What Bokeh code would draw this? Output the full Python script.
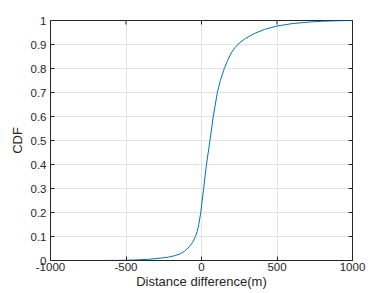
import math
from bokeh.plotting import figure
from bokeh.models import Range1d, FixedTicker
from bokeh.embed import file_html
from bokeh.resources import INLINE

dist = [-1000, -700, -550, -450, -350, -270, -220, -177, -140, -111, -80, -60, -40, -28, -18, -5, 14, 33, 56, 78, 105, 125, 151, 175, 200, 225, 250, 290, 351, 418, 500, 600, 700, 800, 900, 1000]
cdf = [0, 0, 0.0005, 0.002, 0.005, 0.01, 0.014, 0.02, 0.028, 0.039, 0.058, 0.075, 0.1, 0.122, 0.15, 0.2, 0.3, 0.4, 0.5, 0.6, 0.7, 0.75, 0.8, 0.837, 0.868, 0.889, 0.906, 0.925, 0.946, 0.963, 0.977, 0.987, 0.993, 0.997, 0.999, 1.0]

x_ticks = [-1000, -500, 0, 500, 1000]
x_tick_labels = ["-1000", "-500", "0", "500", "1000"]
y_ticks = [0, 0.1, 0.2, 0.3, 0.4, 0.5, 0.6, 0.7, 0.8, 0.9, 1]
y_tick_labels = ["0", "0.1", "0.2", "0.3", "0.4", "0.5", "0.6", "0.7", "0.8", "0.9", "1"]
x_min, x_max = -1000, 1000
y_min, y_max = 0, 1

FONT = "Liberation Sans"
TXT = "#262626"

p = figure(frame_width=302, frame_height=240,
           x_range=Range1d(x_min, x_max), y_range=Range1d(y_min, y_max),
           output_backend="svg", toolbar_location=None,
           min_border_left=50, min_border_top=20, min_border_right=22, min_border_bottom=30,
           background_fill_color="white", border_fill_color="white")
p.outline_line_color = TXT
p.outline_line_width = 1

p.xgrid.ticker = FixedTicker(ticks=x_ticks)
p.ygrid.ticker = FixedTicker(ticks=y_ticks)
p.grid.grid_line_color = "#e3e3e3"
p.grid.grid_line_width = 1

p.line(dist, cdf, line_color="#0072BD", line_width=1)

# mirrored inward ticks on the top and right edges (half of each dash is clipped by the frame)
p.scatter(x=x_ticks, y=[y_max] * len(x_ticks), marker="dash", angle=math.pi / 2,
          size=8, line_color=TXT, line_width=1)
p.scatter(x=[x_max] * len(y_ticks), y=y_ticks, marker="dash",
          size=8, line_color=TXT, line_width=1)

def style_axis(ax, ticks, labels):
    ax.ticker = FixedTicker(ticks=ticks)
    ax.major_label_overrides = {t: l for t, l in zip(ticks, labels)}
    ax.major_tick_in = 4
    ax.major_tick_out = 0
    ax.minor_tick_line_color = None
    ax.axis_line_color = TXT
    ax.major_tick_line_color = TXT
    ax.major_label_text_font = FONT
    ax.major_label_text_color = TXT
    ax.major_label_text_font_size = "11.5px"
    ax.axis_label_text_font = FONT
    ax.axis_label_text_font_style = "normal"
    ax.axis_label_text_color = TXT
    ax.axis_label_text_font_size = "13px"
    ax.axis_label_standoff = 0

style_axis(p.xaxis[0], x_ticks, x_tick_labels)
style_axis(p.yaxis[0], y_ticks, y_tick_labels)
p.xaxis[0].axis_label = "Distance difference(m)"
p.yaxis[0].axis_label = "CDF"
p.xaxis[0].major_label_standoff = 2
p.yaxis[0].major_label_standoff = 4
p.yaxis[0].axis_label_standoff = 3

open("out.html", "w").write(file_html(p, INLINE))
